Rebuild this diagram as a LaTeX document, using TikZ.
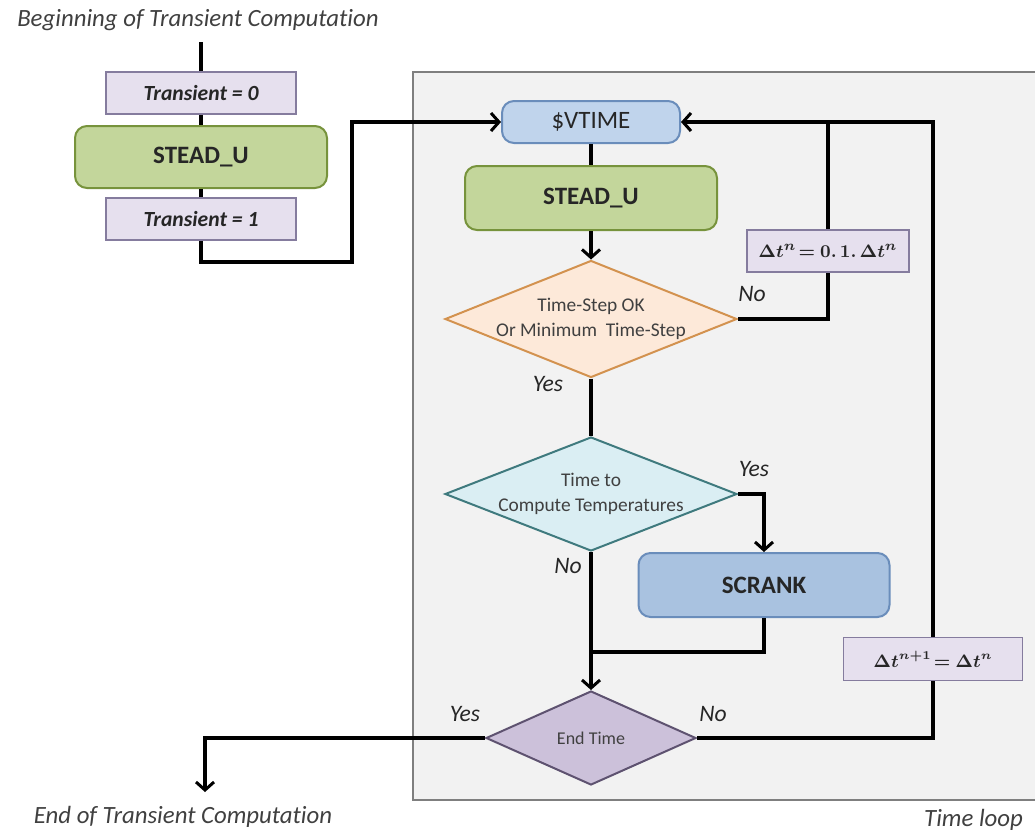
\documentclass[tikz,border=0pt]{standalone}
\usepackage[no-math]{fontspec}
\setmainfont{Carlito}[Ligatures=NoCommon]
\usepackage{bm}
\usetikzlibrary{shapes.geometric,arrows.meta}
\definecolor{lavfill}{HTML}{E6E0EE}
\definecolor{lavdraw}{HTML}{857C9E}
\definecolor{grfill}{HTML}{C3D69B}
\definecolor{grdraw}{HTML}{77933C}
\definecolor{blfill}{HTML}{C0D4EC}
\definecolor{bldraw}{HTML}{6A8DBB}
\definecolor{bl2fill}{HTML}{A9C2E0}
\definecolor{orfill}{HTML}{FDE9D9}
\definecolor{ordraw}{HTML}{D3924F}
\definecolor{cyfill}{HTML}{DAEEF3}
\definecolor{cydraw}{HTML}{3F7A7E}
\definecolor{pufill}{HTML}{CCC1DA}
\definecolor{pudraw}{HTML}{5E5270}
\definecolor{loopfill}{HTML}{F2F2F2}
\definecolor{loopdraw}{HTML}{7F7F7F}
\definecolor{txt}{HTML}{262626}
\definecolor{txtg}{HTML}{404040}
\begin{document}
\begin{tikzpicture}[x=0.5pt,y=-0.5pt,
  conn/.style={line width=1.9pt,black},
  arr/.style={conn,-{Straight Barb[length=4pt,width=9pt,line width=1.5pt]}},
  lavbox/.style={draw=lavdraw,fill=lavfill,line width=0.9pt,minimum width=95pt,minimum height=21pt,inner sep=0pt,text=txt},
  procbox/.style={rounded corners=6pt,line width=1pt,inner sep=0pt,text=txt,font=\fontsize{12.5}{14}\selectfont\bfseries},
  greenbox/.style={procbox,draw=grdraw,fill=grfill,minimum width=126pt,minimum height=31pt},
  dia/.style={diamond,inner sep=0pt,line width=1pt},
  diatext/.style={align=center,text=txtg,font=\fontsize{9.7}{12.5}\selectfont},
  yn/.style={font=\fontsize{11.8}{13}\selectfont\itshape,text=txt},
  big/.style={font=\fontsize{12.4}{14}\selectfont\itshape,text=txtg}
]
\useasboundingbox (0,0) rectangle (1035,837);
% time loop box
\fill[loopfill] (413,72) rectangle (1035,800);
\draw[loopdraw,line width=1pt] (1035,72) -- (413,72) -- (413,800) -- (1035,800);
\node[big,anchor=east] (tl) at (1030,820) {Time loop};

% left part
\node[big] (beg) at (198,20) {Beginning of Transient Computation};
\coordinate (start) at (201,42);
\node[lavbox,font=\fontsize{10.8}{12}\selectfont\bfseries\itshape] (tr0) at (201,93) {Transient = 0};
\node[greenbox] (st1) at (201,157) {STEAD\_U};
\node[lavbox,font=\fontsize{10.8}{12}\selectfont\bfseries\itshape] (tr1) at (201,219) {Transient = 1};

% loop nodes
\node[procbox,draw=bldraw,fill=blfill,minimum width=89pt,minimum height=21pt,font=\fontsize{12.5}{14}\selectfont] (vt) at (591,122) {\$VTIME};
\node[greenbox,minimum height=32pt] (st2) at (591,198) {STEAD\_U};
\node[dia,draw=ordraw,fill=orfill,minimum width=146pt,minimum height=58.5pt] (d1) at (591,319) {};
\node[diatext] (d1t) at (591,319) {Time-Step OK\\Or Minimum\ \ Time-Step};
\node[dia,draw=cydraw,fill=cyfill,minimum width=146pt,minimum height=57pt] (d2) at (591,494) {};
\node[diatext] (d2t) at (591,494) {Time to\\Compute Temperatures};
\node[procbox,draw=bldraw,fill=bl2fill,minimum width=125.5pt,minimum height=32pt] (sc) at (764,585) {SCRANK};
\node[dia,draw=pudraw,fill=pufill,minimum width=105pt,minimum height=47pt] (d3) at (591,738) {};
\node[diatext,font=\fontsize{9}{11}\selectfont] (d3t) at (591,738) {End Time};
\node[lavbox,minimum width=81pt,minimum height=21pt,font=\fontsize{9.5}{12}\selectfont] (dt1) at (828,251) {$\bm{\Delta t^{n}\!= 0.\,1.\,\Delta t^{n}}$};
\node[lavbox,minimum width=89.5pt,minimum height=21.5pt,font=\fontsize{8.8}{12}\selectfont] (dt2) at (933,659) {$\bm{\Delta t^{n+1}\!= \Delta t^{n}}$};
\coordinate (j1) at (828,122);
\coordinate (j2) at (591,652);
\coordinate (endc) at (205,792);
\node[big] (endt) at (183,817) {End of Transient Computation};

% connectors
\draw[conn] (start) -- (tr0.north);
\draw[conn] (tr0) -- (st1);
\draw[conn] (st1) -- (tr1);
\draw[arr] (tr1.south) |- (352,262) |- (vt.west);
\draw[conn] (vt) -- (st2);
\draw[arr] (st2.south) -- (d1.north);
\draw[conn] (d1.east) -| (dt1.south);
\draw[conn] (dt1.north) -- (j1);
\draw[arr] (dt2.north) |- (vt.east);
\draw[conn] (d1.south) -- (d2.north);
\draw[arr] (d2.east) -| (sc.north);
\draw[arr] (d2.south) -- (d3.north);
\draw[conn] (sc.south) |- (j2);
\draw[conn] (d3.east) -| (dt2.south);
\draw[arr] (d3.west) -| (endc);

% labels
\node[yn] (l1) at (752,294) {No};
\node[yn] (l2) at (548,384) {Yes};
\node[yn] (l3) at (754,469) {Yes};
\node[yn] (l4) at (568,566) {No};
\node[yn] (l5) at (465,714) {Yes};
\node[yn] (l6) at (713,714) {No};
\end{tikzpicture}
\end{document}
